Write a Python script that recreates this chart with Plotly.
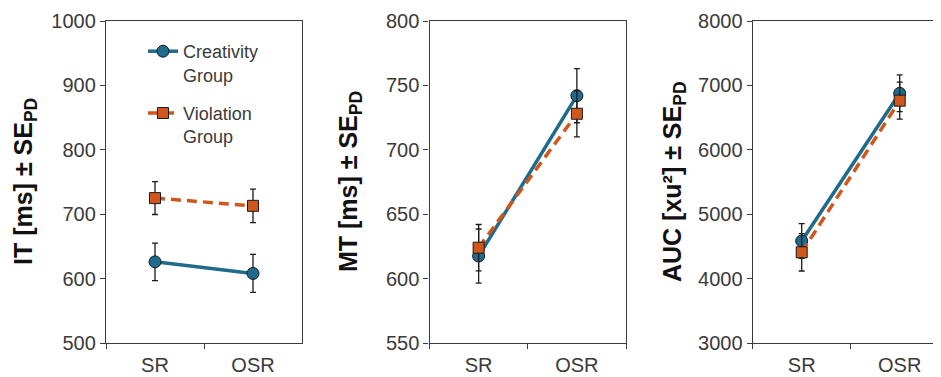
import plotly.graph_objects as go

conditions = ["SR", "OSR"]

it_creativity = [626, 608]
it_creativity_err = [29, 29.5]
it_violation = [725, 713]
it_violation_err = [25.5, 26]

mt_creativity = [617.5, 742]
mt_creativity_err = [21, 21]
mt_violation = [624, 728]
mt_violation_err = [18, 18]

auc_creativity = [4584, 6877]
auc_creativity_err = [270, 285]
auc_violation = [4408, 6763]
auc_violation_err = [290, 287]

y_titles = ["IT [ms] ± SE<sub>PD</sub>", "MT [ms] ± SE<sub>PD</sub>", "AUC [xu²] ± SE<sub>PD</sub>"]
y_ranges = [[500, 1000], [550, 800], [3000, 8000]]
y_dticks = [100, 50, 1000]

BLUE = "#1f6b8c"
ORANGE = "#d0571b"
EDGE = "#1a1a1a"
AXIS = "#3a3a3a"
FONT = "Liberation Sans, Arial, sans-serif"

W, H = 941, 377
OFF = 8  # page body margin
fig = go.Figure()

panels = [
    (it_creativity, it_creativity_err, it_violation, it_violation_err),
    (mt_creativity, mt_creativity_err, mt_violation, mt_violation_err),
    (auc_creativity, auc_creativity_err, auc_violation, auc_violation_err),
]

x_px = [(106, 302), (429.5, 626), (752.7, 948.7)]
title_x = [25, 350, 674]
y_top, y_bot = 21, 343

for i, (c, ce, v, ve) in enumerate(panels):
    xa = "x" if i == 0 else f"x{i+1}"
    ya = "y" if i == 0 else f"y{i+1}"
    fig.add_trace(go.Scatter(
        x=conditions, y=c, xaxis=xa, yaxis=ya, mode="lines+markers",
        name="Creativity<br>Group", legendgroup="c", showlegend=(i == 0),
        line=dict(color=BLUE, width=3.5),
        marker=dict(symbol="circle", size=12, color=BLUE, line=dict(color=EDGE, width=1)),
        error_y=dict(type="data", array=ce, color=EDGE, thickness=1.3, width=3),
    ))
    fig.add_trace(go.Scatter(
        x=conditions, y=v, xaxis=xa, yaxis=ya, mode="lines+markers",
        name="Violation<br>Group", legendgroup="v", showlegend=(i == 0),
        line=dict(color=ORANGE, width=3.5, dash="10px,6px"),
        marker=dict(symbol="square", size=11, color=ORANGE, line=dict(color=EDGE, width=1)),
        error_y=dict(type="data", array=ve, color=EDGE, thickness=1.3, width=3),
    ))

    xk = "xaxis" if i == 0 else f"xaxis{i+1}"
    yk = "yaxis" if i == 0 else f"yaxis{i+1}"
    fig.layout[xk] = dict(
        domain=[(x_px[i][0] - OFF) / W, min(1.0, (x_px[i][1] - OFF) / W)], anchor=ya,
        type="category", range=[-0.5, 1.5], tickson="boundaries",
        showline=True, linecolor=AXIS, linewidth=1.3, mirror=True,
        ticks="outside", ticklen=5, tickcolor=AXIS, tickwidth=1.3,
        showgrid=False, zeroline=False, automargin=False, ticklabelstandoff=4,
        tickfont=dict(family=FONT, size=20, color=AXIS),
    )
    fig.layout[yk] = dict(
        domain=[1 - (y_bot - OFF) / H, 1 - (y_top - OFF) / H], anchor=xa,
        range=y_ranges[i], dtick=y_dticks[i],
        showline=True, linecolor=AXIS, linewidth=1.3, mirror=True,
        ticks="outside", ticklen=5, tickcolor=AXIS, tickwidth=1.3,
        showgrid=False, zeroline=False, automargin=False,
        tickfont=dict(family=FONT, size=20, color=AXIS),
    )
    fig.add_annotation(
        text=f"<b>{y_titles[i]}</b>", xref="paper", yref="paper",
        x=(title_x[i] - OFF) / W, y=1 - ((y_top + y_bot) / 2 - OFF) / H,
        xanchor="center", yanchor="middle", textangle=-90, showarrow=False,
        font=dict(family=FONT, size=25, color="#111111"),
    )

fig.update_layout(
    width=W, height=H,
    margin=dict(l=0, r=0, t=0, b=0, pad=0, autoexpand=False),
    paper_bgcolor="white", plot_bgcolor="white",
    showlegend=True,
    legend=dict(
        x=(143 - OFF) / W, y=1 - (33 - OFF) / H, xanchor="left", yanchor="top",
        bgcolor="rgba(0,0,0,0)", borderwidth=0,
        font=dict(family=FONT, size=18, color=AXIS),
        traceorder="grouped", tracegroupgap=12, valign="top",
        itemwidth=30,
    ),
)

fig.write_html("out.html")
